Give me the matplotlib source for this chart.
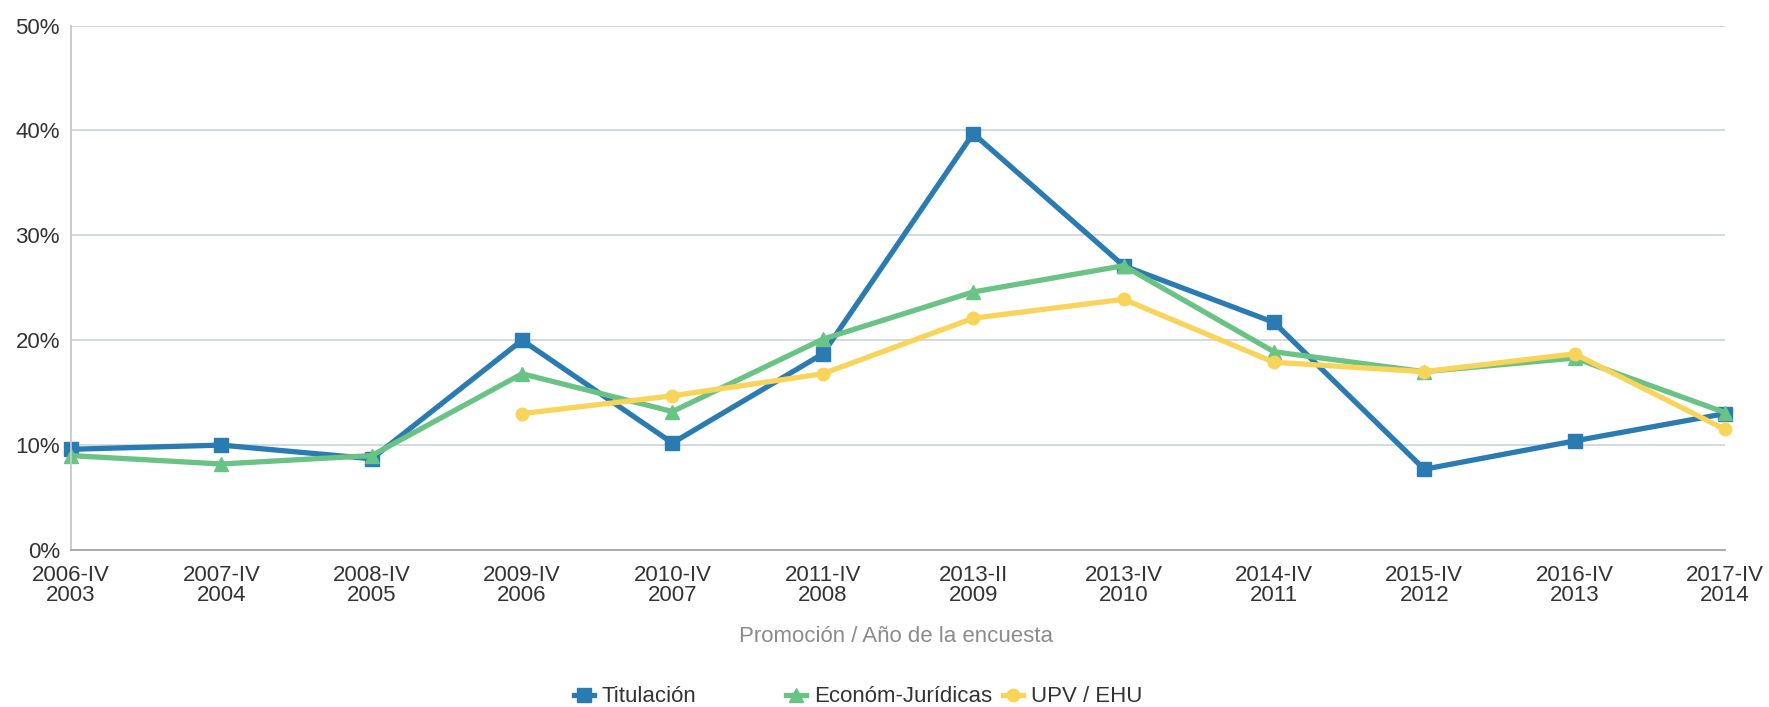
import numpy as np
import matplotlib
matplotlib.use("Agg")
import matplotlib.pyplot as plt
from matplotlib.lines import Line2D
from matplotlib.ticker import FuncFormatter

plt.rcParams['font.family'] = ['Liberation Sans', 'DejaVu Sans']

# Data
categories = ["2006-IV\n2003", "2007-IV\n2004", "2008-IV\n2005", "2009-IV\n2006",
              "2010-IV\n2007", "2011-IV\n2008", "2013-II\n2009", "2013-IV\n2010",
              "2014-IV\n2011", "2015-IV\n2012", "2016-IV\n2013", "2017-IV\n2014"]
titulacion = [9.6, 10.0, 8.7, 20.0, 10.2, 18.7, 39.7, 27.1, 21.7, 7.7, 10.4, 13.0]
econ_jur = [9.0, 8.2, 9.0, 16.8, 13.2, 20.1, 24.6, 27.1, 18.9, 17.0, 18.3, 13.1]
upv_ehu = [np.nan, np.nan, np.nan, 13.0, 14.7, 16.8, 22.1, 23.9, 17.9, 17.0, 18.7, 11.5]

series_names = ["Titulación", "Económ-Jurídicas", "UPV / EHU"]
colors = ["#2a7bb2", "#69c384", "#f8d45a"]
markers = ["s", "^", "o"]

FS = 16

W, H = 1769, 707
fig = plt.figure(figsize=(W / 100, H / 100), dpi=100)
ax = fig.add_axes([71 / W, 1 - 550 / H, (1725 - 71) / W, (550 - 25.5) / H])

x = np.arange(len(categories))
handles = []
for vals, name, c, m in zip([titulacion, econ_jur, upv_ehu], series_names, colors, markers):
    ms = 9.5 if m == "s" else (10.5 if m == "^" else 9)
    ax.plot(x, vals, color=c, lw=3.8, marker=m, markersize=ms, clip_on=False)
    handles.append(Line2D([], [], color=c, lw=3.8, marker=m, markersize=ms))

ax.set_xlim(0, len(categories) - 1)
ax.set_ylim(0, 50)
ax.set_yticks([0, 10, 20, 30, 40, 50])
ax.yaxis.set_major_formatter(FuncFormatter(lambda v, p: f"{v:.0f}%"))
ax.set_xticks(x)
ax.set_xticklabels(categories, linespacing=0.92)

ax.tick_params(axis='both', length=0, labelsize=FS, colors="#333333")
ax.tick_params(axis='x', pad=11)
ax.tick_params(axis='y', pad=8)

ax.grid(axis='y', color="#c9d3df", lw=1.2)
ax.set_axisbelow(True)
for s in ["top", "right"]:
    ax.spines[s].set_visible(False)
ax.spines["left"].set_color("#c8c8c8")
ax.spines["left"].set_linewidth(1.3)
ax.spines["bottom"].set_color("#a6a6a6")
ax.spines["bottom"].set_linewidth(1.3)

fig.text((740 + 1051) / 2 / W, 1 - 637 / H, "Promoción / Año de la encuesta",
         ha="center", va="center", fontsize=FS, color="#8c8c8c")

# legend entries placed like the original
for h, name, left in zip(handles, series_names, [574, 786, 1003]):
    fig.legend([h], [name], loc="center left", bbox_to_anchor=(left / W, 1 - 697 / H),
               frameon=False, borderpad=0, borderaxespad=0, handlelength=0.9,
               handletextpad=0.35, fontsize=FS, labelcolor="#333333")

fig.savefig("out.png", dpi=100)
